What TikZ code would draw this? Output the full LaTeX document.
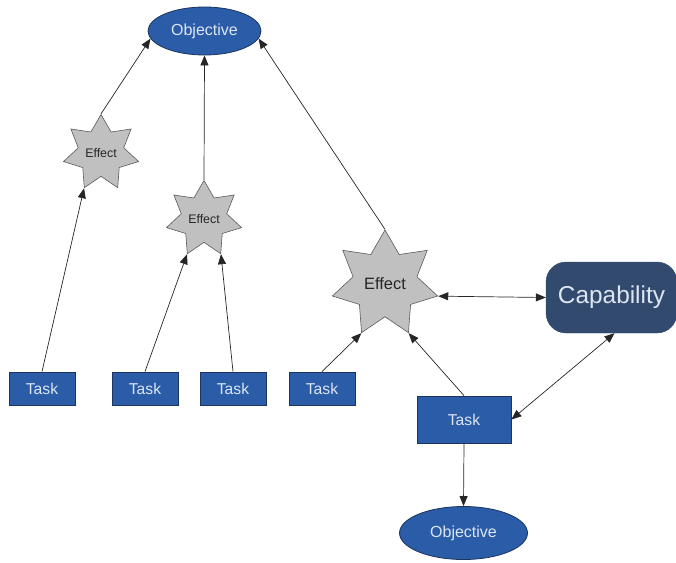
\documentclass[tikz,border=0pt]{standalone}
\usepackage{fontspec}
\setmainfont{Liberation Sans}
\usetikzlibrary{shapes.geometric,arrows.meta}
\definecolor{boxblue}{HTML}{2A5CA8}
\definecolor{boxedge}{HTML}{1B355F}
\definecolor{capblue}{HTML}{324A6E}
\definecolor{lighttext}{HTML}{DCE6F2}
\definecolor{starfill}{HTML}{C0C0C0}
\definecolor{staredge}{HTML}{5A5A5A}
\begin{document}
\begin{tikzpicture}[x=1pt,y=-1pt,
  obj/.style={ellipse,draw=boxedge,fill=boxblue,line width=0.8pt,inner sep=0pt,
    text=lighttext,font=\fontsize{16}{18}\selectfont},
  taskbox/.style={rectangle,draw=boxedge,fill=boxblue,line width=0.8pt,inner sep=0pt,
    text=lighttext,font=\fontsize{15.7}{18}\selectfont},
  effect/.style={star,star points=7,star point ratio=1.65,draw=staredge,fill=starfill,
    line width=0.6pt,inner sep=0pt,text=black!85},
  capbox/.style={rectangle,rounded corners=20pt,fill=capblue,draw=capblue,inner sep=0pt,
    text=lighttext,font=\fontsize{24.4}{28}\selectfont},
  conn/.style={draw=black!85,line width=0.7pt,-{Triangle[length=10pt,width=8pt]}},
  bconn/.style={draw=black!85,line width=0.7pt,{Triangle[length=10pt,width=8pt]}-{Triangle[length=10pt,width=8pt]}}
]
\useasboundingbox (0,0) rectangle (676,562);

\node[obj,minimum width=113pt,minimum height=48pt] (o1) at (204.5,31) {Objective};
\node[obj,minimum width=128pt,minimum height=53pt] (o2) at (463.5,533) {Objective};

\node[effect,minimum size=77pt,font=\fontsize{12.4}{14}\selectfont] (e1) at (101,153) {Effect};
\node[effect,minimum size=77pt,font=\fontsize{12.4}{14}\selectfont] (e2) at (204,219) {Effect};
\node[effect,minimum size=108pt,font=\fontsize{16.4}{18}\selectfont] (e3) at (385,284) {Effect};

\node[capbox,minimum width=131pt,minimum height=71pt] (c) at (611.5,297.5) {Capability};

\node[taskbox,minimum width=66pt,minimum height=33pt] (t1) at (42,388.5) {Task};
\node[taskbox,minimum width=66pt,minimum height=33pt] (t2) at (145,388.5) {Task};
\node[taskbox,minimum width=66pt,minimum height=33pt] (t3) at (233,388.5) {Task};
\node[taskbox,minimum width=66pt,minimum height=33pt] (t4) at (322,388.5) {Task};
\node[taskbox,minimum width=94pt,minimum height=47pt] (t5) at (464,419.5) {Task};

\draw[conn] (e1.outer point 1) -- (o1.188);
\draw[conn] (e2.outer point 1) -- (o1.south);
\draw[conn] (e3.outer point 1) -- (o1.352);

\draw[conn] (t1.north) -- (e1.outer point 4);
\draw[conn] (t2.north) -- (e2.outer point 4);
\draw[conn] (t3.north) -- (e2.outer point 5);
\draw[conn] (t4.north) -- (e3.outer point 4);
\draw[conn] (t5.north) -- (e3.outer point 5);

\draw[bconn] (e3.outer point 6) -- (c.west);
\draw[bconn] (t5.east) -- ([xshift=3pt]c.south);
\draw[conn] (t5.south) -- (o2.north);
\end{tikzpicture}
\end{document}
